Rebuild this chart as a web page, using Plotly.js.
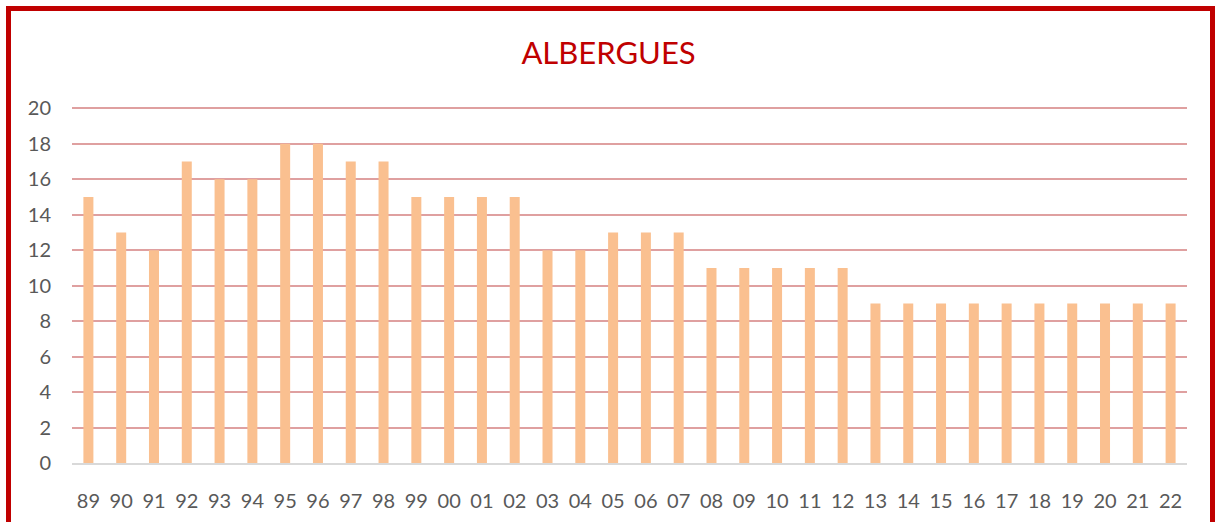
<!DOCTYPE html>
<html>
<head>
<meta charset="utf-8">
<script src="https://cdn.plot.ly/plotly-3.0.1.min.js"></script>
<style>
  html, body { margin: 0; padding: 0; background: #fff; overflow: hidden; }
  #wrap { position: relative; width: 1217px; height: 522px; }
  #chart { position: absolute; left: 0; top: 0; width: 1217px; height: 522px; }
  #frame { position: absolute; left: 6px; top: 6px; width: 1199px; height: 540px;
           border: 5px solid #C00000; pointer-events: none; }
</style>
</head>
<body>
<div id="wrap">
  <div id="chart"></div>
  <div id="frame"></div>
</div>
<script>
const years = ["89","90","91","92","93","94","95","96","97","98","99","00","01","02","03","04","05","06","07","08","09","10","11","12","13","14","15","16","17","18","19","20","21","22"];
const albergues = [15,13,12,17,16,16,18,18,17,17,15,15,15,15,12,12,13,13,13,11,11,11,11,11,9,9,9,9,9,9,9,9,9,9];
const yTicks = [0,2,4,6,8,10,12,14,16,18,20];
const chartTitle = "ALBERGUES";

const trace = {
  type: 'bar',
  x: years,
  y: albergues,
  marker: { color: '#FAC090', line: { width: 0 } },
  hoverinfo: 'x+y'
};

const layout = {
  width: 1217,
  height: 522,
  paper_bgcolor: '#ffffff',
  plot_bgcolor: '#ffffff',
  margin: { l: 72, r: 30, t: 103, b: 59 },
  showlegend: false,
  bargap: 0.695,
  font: { family: 'Lato, "Open Sans", sans-serif', color: '#595959', size: 20 },
  title: {
    text: chartTitle,
    font: { family: 'Lato, "Open Sans", sans-serif', color: '#C00000', size: 31 },
    x: 0.5, xanchor: 'center',
    y: 1 - 53/522, yanchor: 'middle', yref: 'container'
  },
  xaxis: {
    type: 'category',
    range: [-0.5, 33.5],
    showgrid: false,
    showline: true,
    linecolor: '#D9D9D9',
    linewidth: 2,
    ticks: '',
    ticklabelstandoff: 19,
    tickfont: { size: 20, color: '#595959' },
    fixedrange: true
  },
  yaxis: {
    range: [0, 20.3],
    tickvals: yTicks,
    ticktext: yTicks.map(String),
    showgrid: true,
    gridcolor: '#DFA0A0',
    gridwidth: 2,
    zeroline: false,
    showline: false,
    ticks: '',
    ticklabelstandoff: 20,
    tickfont: { size: 20, color: '#595959' },
    fixedrange: true
  }
};

Plotly.newPlot('chart', [trace], layout, { displayModeBar: false, staticPlot: true });
</script>
</body>
</html>
